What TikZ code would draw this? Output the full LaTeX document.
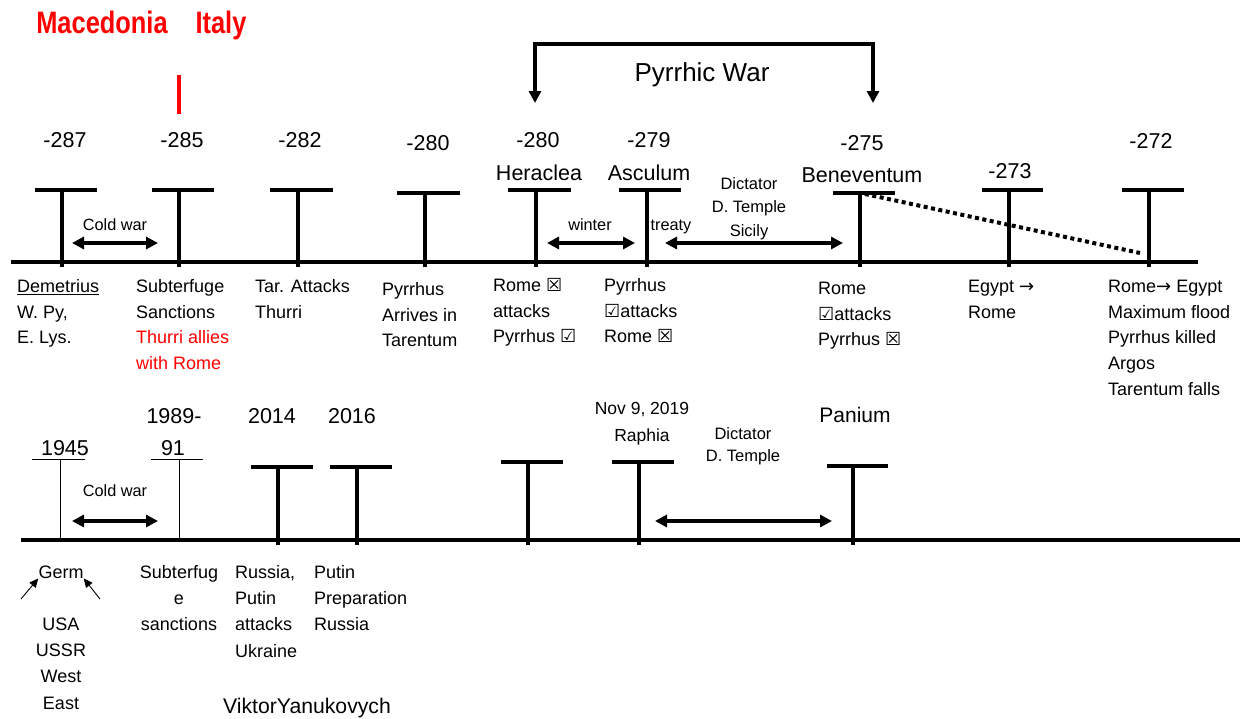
\documentclass[tikz,border=0pt]{standalone}
\usepackage{fontspec}
\setmainfont{Liberation Sans}
\newfontfamily\symfont{DejaVu Sans}
\newfontfamily\narrowfont{Liberation Sans}[FakeStretch=0.82]
\usetikzlibrary{arrows.meta,calc}
\tikzset{
  yr/.style={anchor=base, inner sep=0pt, font=\fontsize{21.5}{25}\selectfont},
  lbl/.style={anchor=north west, inner sep=0pt, align=left, font=\fontsize{18}{25.8}\selectfont},
  lblb/.style={anchor=north west, inner sep=0pt, align=left, font=\fontsize{18}{26.3}\selectfont},
  lblc/.style={anchor=north, inner sep=0pt, align=center, font=\fontsize{18}{26.3}\selectfont},
  sm/.style={anchor=base, inner sep=0pt, font=\fontsize{16.3}{23.5}\selectfont},
  smc/.style={anchor=north, inner sep=0pt, align=center, font=\fontsize{16.5}{23.5}\selectfont},
  capline/.style={line width=4.3pt},
  stemline/.style={line width=3.3pt},
  thinline/.style={line width=1pt},
  axis/.style={line width=4.5pt},
  dbl/.style={line width=3.2pt, {Triangle[length=12pt,width=12pt]}-{Triangle[length=12pt,width=12pt]}},
  brk/.style={line width=3.6pt, line join=miter, {Triangle[length=12pt,width=12pt]}-{Triangle[length=12pt,width=12pt]}},
  smallarrow/.style={line width=0.9pt, -{Triangle[length=9pt,width=8pt]}},
  dots/.style={line width=4pt, dash pattern=on 4pt off 3.5pt},
}
\begin{document}
\begin{tikzpicture}[x=1pt,y=-1pt]
\path[use as bounding box, fill=white] (0,0) rectangle (1247,718);

% ---------- header ----------
\node[anchor=base, inner sep=0pt, text=red, font=\narrowfont\bfseries\fontsize{31}{34}\selectfont] (mac) at (102,33) {Macedonia};
\node[anchor=base, inner sep=0pt, text=red, font=\narrowfont\bfseries\fontsize{31}{34}\selectfont] (ita) at (221,33) {Italy};
\draw[red, line width=3.5pt] (179,75) -- (179,114);

% Pyrrhic war bracket
\coordinate (pwL) at (535,103);
\coordinate (pwR) at (873,103);
\draw[brk] (pwL) -- (535,44) -- (873,44) -- (pwR);
\node[anchor=base, inner sep=0pt, font=\fontsize{26}{30}\selectfont] (pw) at (702,81) {Pyrrhic War};

% ---------- top timeline ----------
\coordinate (tA) at (11,262);
\coordinate (tB) at (1198,262);
\draw[axis] (tA) -- (tB);

% T markers: cap left, cap right, cap y, stem x
\foreach \l/\r/\cy/\sx in {35/97/190/62, 152/214/190/179, 270/333/190/298, 397/460/193/425,
  508/571/190/536, 619/681/190/647, 833/895/193/860, 982/1043/190/1009, 1122/1184/190/1149}{
  \draw[capline] (\l,\cy) -- (\r,\cy);
  \draw[stemline] (\sx,\cy) -- (\sx,267);
}

% year labels
\node[yr] (y287) at (65,147) {-287};
\node[yr] (y285) at (182,147) {-285};
\node[yr] (y282) at (300,147) {-282};
\node[yr] (y280a) at (428,150) {-280};
\node[yr] (y280b) at (538,147) {-280};
\node[yr] (her) at (539,180) {Heraclea};
\node[yr] (y279) at (649,147) {-279};
\node[yr] (asc) at (649,180) {Asculum};
\node[yr] (y275) at (862,150) {-275};
\node[yr] (ben) at (862,182) {Beneventum};
\node[yr] (y273) at (1010,178) {-273};
\node[yr] (y272) at (1151,148) {-272};

% arrows on top line
\coordinate (cw1a) at (72,243);  \coordinate (cw1b) at (158,243);
\draw[dbl] (cw1a) -- (cw1b);
\node[sm] (cw1) at (115,230) {Cold war};
\coordinate (wa) at (547,243);  \coordinate (wb) at (635,243);
\draw[dbl] (wa) -- (wb);
\node[sm] (win) at (590,230) {winter};
\node[sm] (tre) at (671,230) {treaty};
\coordinate (da) at (665,243);  \coordinate (db) at (843,243);
\draw[dbl] (da) -- (db);
\node[smc] (dic1) at (749,172.5) {\strut Dictator\\D. Temple\\Sicily};

% dotted line
\coordinate (dotA) at (865,194);
\coordinate (dotB) at (1140,253);
\draw[dots] (dotA) -- (dotB);

% labels below top line
\node[lbl] (dem) at (17,274) {\strut\underline{Demetrius}\\W. Py,\\E. Lys.};
\node[lbl] (sub) at (136,274) {\strut Subterfuge\\Sanctions\\\textcolor{red}{Thurri allies}\\\textcolor{red}{with Rome}};
\node[lbl] (tar) at (255,274) {\strut Tar. Attacks\\Thurri};
\node[lbl] (arr) at (382,277) {\strut Pyrrhus\\Arrives in\\Tarentum};
\node[lbl] (rah) at (493,273) {\strut Rome {\symfont ☒}\\attacks\\Pyrrhus {\symfont ☑}};
\node[lbl] (pas) at (604,273) {\strut Pyrrhus\\{\symfont ☑}attacks\\Rome {\symfont ☒}};
\node[lbl] (rbn) at (818,276) {\strut Rome\\{\symfont ☑}attacks\\Pyrrhus {\symfont ☒}};
\node[lbl] (egy) at (968,274) {\strut Egypt {\symfont →}\\Rome};
\node[lbl] (rom) at (1108,274) {\strut Rome{\symfont →} Egypt\\Maximum flood\\Pyrrhus killed\\Argos\\Tarentum falls};

% ---------- bottom timeline ----------
\coordinate (bA) at (21,540);
\coordinate (bB) at (1240,540);
\draw[axis] (bA) -- (bB);

% thin markers
\draw[thinline] (32,459) -- (85,459);
\draw[thinline] (60,459) -- (60,540);
\draw[thinline] (151,459) -- (203,459);
\draw[thinline] (179,459) -- (179,540);

% thick markers
\foreach \l/\r/\cy/\sx in {251/313/467/278, 330/392/467/357, 501/563/462/528, 612/674/462/639, 827/888/466/853}{
  \draw[capline] (\l,\cy) -- (\r,\cy);
  \draw[stemline] (\sx,\cy) -- (\sx,545);
}

\node[yr] (b1945) at (65,455) {1945};
\node[yr] (b1989) at (174,423) {1989-};
\node[yr] (b91) at (173,455) {91};
\node[yr] (b2014) at (272,423) {2014};
\node[yr] (b2016) at (352,423) {2016};
\node[anchor=base, inner sep=0pt, font=\fontsize{17.5}{21}\selectfont] (nov) at (642,414) {Nov 9, 2019};
\node[anchor=base, inner sep=0pt, font=\fontsize{17.5}{21}\selectfont] (rap) at (642,441) {Raphia};
\node[anchor=base, inner sep=0pt, font=\fontsize{21}{25}\selectfont] (pan) at (855,422) {Panium};
\node[anchor=north, inner sep=0pt, align=center, font=\fontsize{16.5}{22.5}\selectfont] (dic2) at (743,423.3) {\strut Dictator\\D. Temple};

\coordinate (cw2a) at (72,521);  \coordinate (cw2b) at (158,521);
\draw[dbl] (cw2a) -- (cw2b);
\node[sm] (cw2) at (115,496) {Cold war};
\coordinate (d2a) at (655,521);  \coordinate (d2b) at (832,521);
\draw[dbl] (d2a) -- (d2b);

% labels below bottom line
\node[anchor=base, inner sep=0pt, font=\fontsize{18}{26.3}\selectfont] (germ) at (61,578) {Germ};
\coordinate (gl) at (21,599);
\coordinate (gr) at (100,599);
\draw[smallarrow] (gl) -- (germ.south west);
\draw[smallarrow] (gr) -- (germ.south east);
\node[lblc] (usa) at (61,611.6) {\strut USA\\USSR\\West\\East};
\node[lblc] (subf) at (179,559.6) {\strut Subterfug\\e\\sanctions};
\node[lblb] (rus) at (235,559.6) {\strut Russia,\\Putin\\attacks\\Ukraine};
\node[lblb] (put) at (314,559.6) {\strut Putin\\Preparation\\Russia};
\node[anchor=base, inner sep=0pt, font=\fontsize{21.2}{25}\selectfont] (vik) at (307,713) {ViktorYanukovych};
\end{tikzpicture}
\end{document}
